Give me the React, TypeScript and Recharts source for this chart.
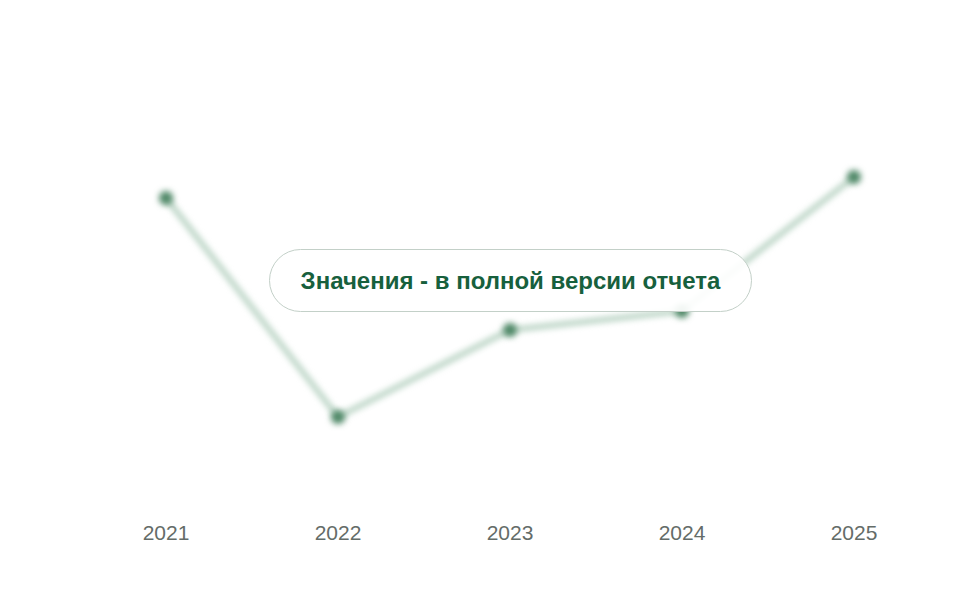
import { LineChart, Line, XAxis, YAxis } from "recharts";

const years = ["2021", "2022", "2023", "2024", "2025"];
const values = [75.5, 20.75, 42.5, 47.25, 80.75];

const data = years.map((year, i) => ({ year, value: values[i] }));

export default function App() {
  return (
    <div
      style={{
        position: "absolute",
        left: 0,
        top: 0,
        width: 960,
        height: 600,
        background: "#ffffff",
        fontFamily: "'Liberation Sans', Arial, sans-serif",
      }}
    >
      <style>{`
        .blurred .recharts-line,
        .blurred .recharts-line-dots { filter: blur(3px); }
      `}</style>
      <LineChart
        className="blurred"
        width={960}
        height={600}
        data={data}
        margin={{ top: 100, right: 106, left: 166, bottom: 70 }}
      >
        <XAxis
          dataKey="year"
          axisLine={false}
          tickLine={false}
          tickMargin={19}
          height={30}
          tick={{ fontSize: 21, fill: "#646c68" }}
        />
        <YAxis hide domain={[0, 100]} />
        <Line
          type="linear"
          dataKey="value"
          stroke="#a9c9b6"
          strokeWidth={4.5}
          dot={{ r: 7, fill: "#4e8766", stroke: "none" }}
          isAnimationActive={false}
        />
      </LineChart>
      <div
        style={{
          position: "absolute",
          left: 269,
          top: 249,
          width: 483,
          height: 63,
          boxSizing: "border-box",
          border: "1.5px solid #c3d0c8",
          borderRadius: 32,
          background: "rgba(255,255,255,0.92)",
          display: "flex",
          alignItems: "center",
          justifyContent: "center",
          color: "#17603d",
          fontWeight: "bold",
          fontSize: 24,
        }}
      >
        Значения - в полной версии отчета
      </div>
    </div>
  );
}
